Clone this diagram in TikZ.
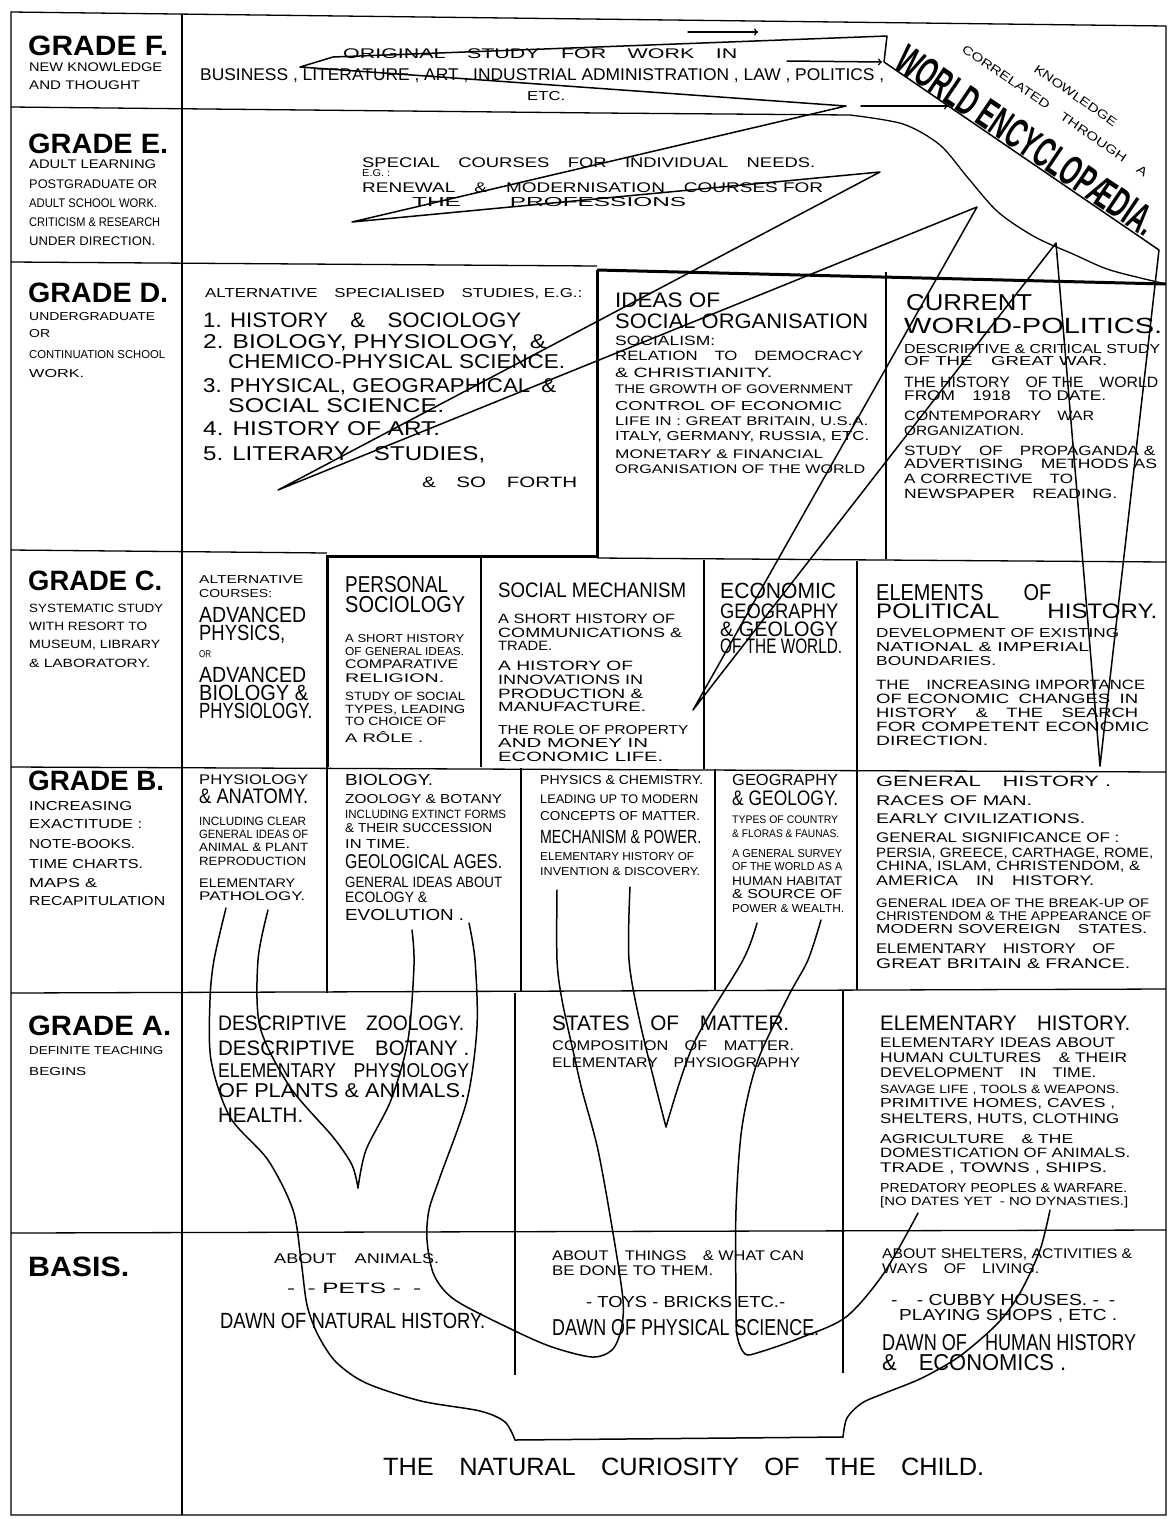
\documentclass[tikz,border=0pt]{standalone}
\usepackage{fontspec}
\setmainfont{Liberation Sans}
\usepackage{graphicx}
\newcommand{\fit}[2]{\resizebox{#1pt}{\height}{#2}}
\newcommand{\sz}[1]{\fontsize{#1}{#1}\selectfont}

\begin{document}
\begin{tikzpicture}[x=1pt, y=-1pt,
    txt/.style={anchor=base west, inner sep=0pt},
    grid/.style={line width=1.3pt},
    heavy/.style={line width=3pt},
    vine/.style={line width=1.5pt, line join=round, line cap=round}]
  \useasboundingbox (0,0) rectangle (1175,1519);

  % frame and rows
  \draw[grid] (11,12) -- (1166,26) -- (1166,1515) -- (11,1515) -- cycle;
  \draw[grid] (182,14) -- (182,1515);
  \draw[grid] (11,107) -- (600,113) -- (850,115)
    -- plot[smooth] coordinates {(850,115) (903,124) (940,145) (968,178) (998,212) (1035,237) (1073,254) (1110,270) (1166,284)};
  \draw[grid] (11,262) -- (597,266);
  \draw[grid] (11,550) -- (327,553);
  \draw[grid] (597,558) -- (1166,562);
  \draw[grid] (11,767) -- (1166,772);
  \draw[grid] (11,993) -- (1166,989);
  \draw[grid] (11,1233) -- (1166,1230);
  % heavy boxes
  \draw[heavy] (597,270) -- (1166,284);
  \draw[heavy] (597,270) -- (597,556) -- (327,556) -- (327,767);
  % columns
  \draw[grid] (886,272) -- (886,559);
  \draw[grid] (481,556) -- (481,767);
  \draw[grid] (704,560) -- (704,769);
  \draw[grid] (857,561) -- (857,770);
  \draw[grid] (327,767) -- (327,993);
  \draw[grid] (521,768) -- (521,992);
  \draw[grid] (715,769) -- (715,991);
  \draw[grid] (857,770) -- (857,990);
  \draw[grid] (515,993) -- (515,1375);
  \draw[grid] (843,990) -- (843,1373);

  % grade titles
  \foreach \y/\w/\t [count=\i] in {55/140/{GRADE F.}, 153/140/{GRADE E.}, 302/140/{GRADE D.},
      590/134/{GRADE C.}, 790/136/{GRADE B.}, 1035/143/{GRADE A.}, 1276/101/{BASIS.}}
    \node[txt] (grade\i) at (28,\y) {\sz{28}\bfseries\fit{\w}{\t}};

  \foreach \y/\w/\s/\t [count=\i] in {
      71/133/12.5/{NEW KNOWLEDGE}, 89/111/12.5/{AND THOUGHT},
      168/127/12.5/{ADULT LEARNING}, 188/128/12.5/{POSTGRADUATE OR}, 207/128/12.5/{ADULT SCHOOL WORK.},
      226/131/12.5/{CRITICISM \& RESEARCH}, 245/126/12.5/{UNDER DIRECTION.},
      320/126/11.5/{UNDERGRADUATE}, 337/21/11.5/{OR}, 358/136/11.5/{CONTINUATION SCHOOL}, 377/55/11.5/{WORK.},
      612/134/12/{SYSTEMATIC STUDY}, 630/118/12/{WITH RESORT TO}, 648/131/12/{MUSEUM, LIBRARY}, 667/121/12/{\& LABORATORY.},
      810/103/13/{INCREASING}, 828/113/13/{EXACTITUDE :}, 848/106/13/{NOTE-BOOKS.}, 868/114/13/{TIME CHARTS.},
      887/68/13/{MAPS \&}, 905/136/13/{RECAPITULATION},
      1054/134/11.5/{DEFINITE TEACHING}, 1075/57/11.5/{BEGINS}}
    \node[txt] (side\i) at (29,\y) {\sz{\s}\fit{\w}{\t}};

  % grade F and E
  \foreach \x/\y/\w/\s/\t [count=\i] in {
      343/58/394/14/{ORIGINAL\quad STUDY\quad FOR\quad WORK\quad IN},
      200/80/684/17/{BUSINESS , LITERATURE , ART , INDUSTRIAL ADMINISTRATION , LAW , POLITICS ,},
      527/100/38/13/{ETC.},
      362/167/453/14/{SPECIAL\quad COURSES\quad FOR\quad INDIVIDUAL\quad NEEDS.},
      362/176/28/10/{E.G. :},
      362/192/461/14/{RENEWAL\quad \&\quad MODERNISATION\quad COURSES FOR},
      412/206/274/13/{THE\qquad PROFESSIONS}}
    \node[txt] (top\i) at (\x,\y) {\sz{\s}\fit{\w}{\t}};

  % grade D
  \foreach \x/\y/\w/\s/\t [count=\i] in {
      205/297/377/13/{ALTERNATIVE\quad SPECIALISED\quad STUDIES, E.G.:},
      203/327/318/21/{1. HISTORY\quad \&\quad SOCIOLOGY},
      203/348/343/20/{2. BIOLOGY, PHYSIOLOGY,\enspace \&},
      228/368/337/20/{CHEMICO-PHYSICAL SCIENCE.},
      203/392/353/20/{3. PHYSICAL, GEOGRAPHICAL\enspace \&},
      228/412/216/20/{SOCIAL SCIENCE.},
      203/435/237/20/{4. HISTORY OF ART.},
      203/460/282/20/{5. LITERARY\quad STUDIES,},
      422/487/155/15/{\&\quad SO\quad FORTH},
      615/307/105/21/{IDEAS OF},
      615/328/253/21/{SOCIAL ORGANISATION},
      615/345/100/13.5/{SOCIALISM:},
      615/360/248/13.5/{RELATION\quad TO\quad DEMOCRACY},
      615/377/157/13.5/{\& CHRISTIANITY.},
      615/393/238/12.5/{THE GROWTH OF GOVERNMENT},
      615/410/227/13/{CONTROL OF ECONOMIC},
      615/425/253/12.5/{LIFE IN : GREAT BRITAIN, U.S.A.},
      615/440/254/13/{ITALY, GERMANY, RUSSIA, ETC.},
      615/458/208/12.5/{MONETARY \& FINANCIAL},
      615/473/250/12.5/{ORGANISATION OF THE WORLD},
      906/310/126/23/{CURRENT},
      904/333/258/22/{WORLD-POLITICS.},
      904/353/256/13/{DESCRIPTIVE \& CRITICAL STUDY},
      904/365/203/13/{OF THE\quad GREAT WAR.},
      904/387/254/15/{THE HISTORY\quad OF THE\quad WORLD},
      904/400/202/14/{FROM\quad 1918\quad TO DATE.},
      904/420/190/13.5/{CONTEMPORARY\quad WAR},
      904/435/120/13.5/{ORGANIZATION.},
      904/455/251/13.5/{STUDY\quad OF\quad PROPAGANDA \&},
      904/468/253/13.5/{ADVERTISING\quad METHODS AS},
      904/483/169/13.5/{A CORRECTIVE\quad TO},
      904/498/213/13.5/{NEWSPAPER\quad READING.}}
    \node[txt] (d\i) at (\x,\y) {\sz{\s}\fit{\w}{\t}};

  % grade C
  \foreach \x/\y/\w/\s/\t [count=\i] in {
      199/583/104/11.5/{ALTERNATIVE}, 199/597/73/11.5/{COURSES:},
      199/622/107/22/{ADVANCED}, 199/640/86/22/{PHYSICS,}, 199/657/12/10/{OR},
      199/682/107/22/{ADVANCED}, 199/700/109/22/{BIOLOGY \&}, 199/718/113/22/{PHYSIOLOGY.},
      345/592/103/23/{PERSONAL}, 345/612/120/23/{SOCIOLOGY},
      345/642/119/11.5/{A SHORT HISTORY}, 345/655/119/11.5/{OF GENERAL IDEAS.},
      345/668/113/12.5/{COMPARATIVE}, 345/682/99/12.5/{RELIGION.},
      345/700/120/12/{STUDY OF SOCIAL}, 345/713/120/12/{TYPES, LEADING},
      345/725/101/12/{TO CHOICE OF}, 345/742/78/12.5/{A RÔLE .},
      498/597/188/21/{SOCIAL MECHANISM},
      498/623/177/13.5/{A SHORT HISTORY OF}, 498/637/184/13.5/{COMMUNICATIONS \&}, 498/650/54/13.5/{TRADE.},
      498/670/135/13.5/{A HISTORY OF}, 498/684/145/13.5/{INNOVATIONS IN},
      498/698/145/13.5/{PRODUCTION \&}, 498/711/148/13.5/{MANUFACTURE.},
      498/734/190/13/{THE ROLE OF PROPERTY}, 498/747/150/13/{AND MONEY IN}, 498/761/165/13.5/{ECONOMIC LIFE.},
      720/598/116/22/{ECONOMIC}, 720/618/118/21/{GEOGRAPHY}, 720/636/118/21/{\& GEOLOGY},
      720/653/122/21/{OF THE WORLD.},
      876/600/175/23/{ELEMENTS\qquad OF}, 876/618/281/21/{POLITICAL\qquad HISTORY.},
      876/637/243/13/{DEVELOPMENT OF EXISTING}, 876/651/213/13/{NATIONAL \& IMPERIAL},
      876/665/120/13/{BOUNDARIES.},
      876/689/269/13.5/{THE\quad INCREASING IMPORTANCE},
      876/703/262/13.5/{OF ECONOMIC\enspace CHANGES\enspace IN},
      876/717/262/13.5/{HISTORY\quad \&\quad THE\quad SEARCH},
      876/731/273/13.5/{FOR COMPETENT ECONOMIC},
      876/745/112/13.5/{DIRECTION.}}
    \node[txt] (c\i) at (\x,\y) {\sz{\s}\fit{\w}{\t}};

  % grade B
  \foreach \x/\y/\w/\s/\t [count=\i] in {
      199/784/109/14/{PHYSIOLOGY}, 199/803/109/21/{\& ANATOMY.},
      199/825/107/12/{INCLUDING CLEAR}, 199/838/109/12/{GENERAL IDEAS OF},
      199/851/109/12/{ANIMAL \& PLANT}, 199/865/107/12/{REPRODUCTION},
      199/887/96/12.5/{ELEMENTARY}, 199/900/106/12.5/{PATHOLOGY.},
      345/785/88/16/{BIOLOGY.}, 345/803/157/13/{ZOOLOGY \& BOTANY},
      345/818/161/12/{INCLUDING EXTINCT FORMS}, 345/832/147/13/{\& THEIR SUCCESSION},
      345/848/65/13/{IN TIME.}, 345/868/157/20/{GEOLOGICAL AGES.},
      345/887/157/15/{GENERAL IDEAS ABOUT}, 345/902/82/15/{ECOLOGY \&}, 345/920/119/16/{EVOLUTION .},
      540/784/163/13/{PHYSICS \& CHEMISTRY.}, 540/803/158/12.5/{LEADING UP TO MODERN},
      540/820/160/13/{CONCEPTS OF MATTER.}, 540/843/161/19/{MECHANISM \& POWER.},
      540/860/154/11.5/{ELEMENTARY HISTORY OF}, 540/875/160/11.5/{INVENTION \& DISCOVERY.},
      732/785/106/16/{GEOGRAPHY}, 732/805/106/21/{\& GEOLOGY.},
      732/823/106/11/{TYPES OF COUNTRY}, 732/837/107/11/{\& FLORAS \& FAUNAS.},
      732/857/110/11.5/{A GENERAL SURVEY}, 732/870/110/11.5/{OF THE WORLD AS A},
      732/885/110/12.5/{HUMAN HABITAT}, 732/898/110/13/{\& SOURCE OF},
      732/912/112/11.5/{POWER \& WEALTH.},
      876/786/235/15/{GENERAL\quad HISTORY .}, 876/805/156/14/{RACES OF MAN.},
      876/823/209/14/{EARLY CIVILIZATIONS.}, 876/842/243/14/{GENERAL SIGNIFICANCE OF :},
      876/857/277/13.5/{PERSIA, GREECE, CARTHAGE, ROME,},
      876/870/264/13.5/{CHINA, ISLAM, CHRISTENDOM, \&},
      876/885/218/14/{AMERICA\quad IN\quad HISTORY.},
      876/907/273/12.5/{GENERAL IDEA OF THE BREAK-UP OF},
      876/920/275/12.5/{CHRISTENDOM \& THE APPEARANCE OF},
      876/933/271/13/{MODERN SOVEREIGN\quad STATES.},
      876/953/239/14/{ELEMENTARY\quad HISTORY\quad OF},
      876/968/254/14/{GREAT BRITAIN \& FRANCE.}}
    \node[txt] (b\i) at (\x,\y) {\sz{\s}\fit{\w}{\t}};

  % grade A
  \foreach \x/\y/\w/\s/\t [count=\i] in {
      218/1030/246/21/{DESCRIPTIVE\quad ZOOLOGY.}, 218/1055/251/21/{DESCRIPTIVE\quad BOTANY .},
      218/1077/251/20/{ELEMENTARY\quad PHYSIOLOGY}, 218/1097/248/20/{OF PLANTS \& ANIMALS.},
      218/1122/85/21/{HEALTH.},
      552/1030/237/21/{STATES\quad OF\quad MATTER.}, 552/1050/242/14/{COMPOSITION\quad OF\quad MATTER.},
      552/1067/248/14/{ELEMENTARY\quad PHYSIOGRAPHY},
      880/1030/250/21/{ELEMENTARY\quad HISTORY.}, 880/1047/235/14/{ELEMENTARY IDEAS ABOUT},
      880/1062/247/14/{HUMAN CULTURES\quad \& THEIR}, 880/1077/216/14/{DEVELOPMENT\quad IN\quad TIME.},
      880/1093/239/12/{SAVAGE LIFE , TOOLS \& WEAPONS.}, 880/1107/235/13/{PRIMITIVE HOMES, CAVES ,},
      880/1123/239/14/{SHELTERS, HUTS, CLOTHING}, 880/1143/193/13/{AGRICULTURE\quad \& THE},
      880/1157/250/13.5/{DOMESTICATION OF ANIMALS.}, 880/1172/227/14/{TRADE , TOWNS , SHIPS.},
      880/1192/247/13/{PREDATORY PEOPLES \& WARFARE.},
      880/1205/248/12/{[NO DATES YET\enspace - NO DYNASTIES.]}}
    \node[txt] (a\i) at (\x,\y) {\sz{\s}\fit{\w}{\t}};

  % basis
  \foreach \x/\y/\w/\s/\t [count=\i] in {
      274/1263/165/14/{ABOUT\quad ANIMALS.}, 287/1293/134/15/{-\enspace - PETS -\enspace -},
      220/1328/265/22/{DAWN OF NATURAL HISTORY.},
      552/1260/252/14/{ABOUT\quad THINGS\quad \& WHAT CAN}, 552/1275/161/14/{BE DONE TO THEM.},
      586/1307/199/16/{- TOYS - BRICKS ETC.-}, 552/1335/267/23/{DAWN OF PHYSICAL SCIENCE.},
      882/1258/250/14/{ABOUT SHELTERS, ACTIVITIES \&}, 882/1273/157/14/{WAYS\quad OF\quad LIVING.},
      891/1305/224/16/{-\quad - CUBBY HOUSES. -\enspace -}, 899/1320/218/16/{PLAYING SHOPS , ETC .},
      882/1350/254/23/{DAWN OF\quad HUMAN HISTORY}, 882/1370/184/23/{\&\quad ECONOMICS .},
      383/1475/601/25/{THE\quad NATURAL\quad CURIOSITY\quad OF\quad THE\quad CHILD.}}
    \node[txt] (s\i) at (\x,\y) {\sz{\s}\fit{\w}{\t}};

  % encyclopaedia
  \node[txt, rotate=-34] (world) at (892,67) {\sz{42}\bfseries\fit{305}{WORLD ENCYCLOPÆDIA.}};
  \node[txt, rotate=-34.5] (corr) at (961,51) {\sz{12}\fit{222}{CORRELATED\quad THROUGH\quad A}};
  \node[txt, rotate=-35] (know) at (1033,71) {\sz{12}\fit{98}{KNOWLEDGE}};

  % zigzag of the higher grades
  \draw[vine] (887,36) -- (333,57) -- (300,67) -- (846,106) -- (352,222) -- (880,172)
    -- (278,490) -- (977,207) -- (693,710) -- (1056,243) -- (1100,766) -- (1159,250)
    -- (884,62) -- cycle;
  \draw[vine, ->] (688,32) -- (758,32);
  \draw[vine, ->] (787,61) -- (882,62);
  \draw[vine, ->] (861,106) -- (948,106);

  % the tree from the child
  \draw[vine] plot[smooth] coordinates {(226,908) (214,960) (210,1000) (211,1060) (230,1117)
      (268,1160) (293,1210) (301,1260) (307,1305) (318,1335) (336,1362) (366,1383) (421,1401)
      (480,1411) (505,1422) (515,1440)}
    -- plot[smooth] coordinates {(843,1437) (847,1418) (862,1403) (885,1393) (922,1378)
      (960,1356) (998,1323) (1020,1293) (1040,1250) (1050,1210)};
  \draw[vine] plot[smooth] coordinates {(268,910) (258,960) (260,1027) (290,1087) (333,1137)
      (352,1165) (358,1188)}
    -- plot[smooth] coordinates {(358,1188) (366,1150) (391,1100) (408,1040) (414,965) (412,930)};
  \draw[vine] plot[smooth] coordinates {(469,923) (475,960) (477,1027) (467,1100) (440,1177)
      (429,1210) (427,1240) (434,1275) (455,1300) (513,1330) (552,1347) (592,1357) (612,1350)
      (621,1330) (623,1300) (613,1233) (598,1150) (582,1090) (574,1055) (562,1000) (557,960) (557,890)};
  \draw[vine] plot[smooth] coordinates {(630,887) (629,960) (641,1027) (666,1127)}
    -- plot[smooth] coordinates {(666,1127) (694,1043) (743,960) (757,923)};
  \draw[vine] plot[smooth] coordinates {(821,920) (808,960) (789,995) (758,1060) (742,1127)
      (736,1210) (736,1300) (737,1335) (745,1354) (760,1352) (800,1338) (846,1317) (884,1273) (918,1213)};
\end{tikzpicture}
\end{document}
